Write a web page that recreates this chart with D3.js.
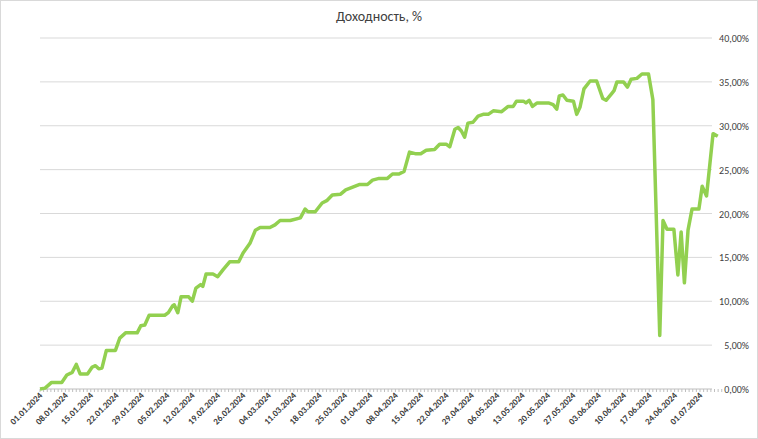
<!DOCTYPE html>
<html><head><meta charset="utf-8">
<script src="https://cdn.jsdelivr.net/npm/d3@7"></script>
<style>body{margin:0;background:#fff}svg{display:block;font-family:Calibri,"Liberation Sans",Arial,sans-serif}</style>
</head><body><svg id="chart" width="758" height="439"></svg>
<script>
// days since 01.01.2024 and yield, %
const dayOffsets = [0,1.4,3.2,6,7.4,8.9,10,11.1,13.1,14.4,15.3,16.2,17.1,18.3,20.8,22,23.6,26.8,27.8,28.9,30.1,31.5,34.4,35.4,36.6,37,38,38.9,41,42,43,44.3,44.9,45.8,47.7,49,50.5,52.3,54.8,56,57.9,59.4,60.7,63.4,64.8,66.2,69,71.8,73.1,73.9,75.9,77.8,79.2,80.6,82.9,84.3,88,90.3,91.7,93.5,95.8,97.2,99,100.4,101.9,103.7,105,106.5,108.8,110.2,112,113,114.4,115.3,116.2,117.1,118,119.4,120.8,122.2,123.6,125,127.3,129.1,130.5,131.4,133.3,134,134.9,135.8,137.1,140.2,141.5,142.5,143.2,144.2,145.3,147.1,148,148.9,150,151.7,153.5,155.2,156.1,157.7,158.3,159.1,160.9,162,163,164.6,166,167.8,169,170.9,171.8,172.9,174.8,175.9,176.8,177.7,178.7,179.8,181.7,182.6,183.8,185.6,186.9];
const yieldPct = [0,0.1,0.75,0.75,1.6,1.9,2.8,1.7,1.7,2.5,2.65,2.3,2.4,4.4,4.4,5.8,6.4,6.4,7.2,7.3,8.4,8.4,8.4,8.7,9.5,9.6,8.7,10.5,10.5,10.0,11.5,11.9,11.7,13.1,13.1,12.8,13.6,14.5,14.5,15.5,16.6,18.1,18.4,18.4,18.7,19.2,19.2,19.5,20.5,20.2,20.2,21.2,21.5,22.1,22.2,22.7,23.3,23.3,23.8,24.0,24.0,24.5,24.5,24.8,27.0,26.8,26.8,27.2,27.3,27.9,27.9,27.6,29.6,29.8,29.4,28.7,30.3,30.4,31.1,31.3,31.3,31.7,31.6,32.2,32.2,32.8,32.8,32.6,32.9,32.2,32.6,32.6,32.4,31.9,33.4,33.5,32.9,32.8,31.3,32.1,34.2,35.1,35.1,33.1,32.9,33.7,34.0,35.0,35.0,34.4,35.3,35.4,35.9,35.9,33.0,6.1,19.2,18.2,18.2,13.0,17.9,12.1,18.1,20.5,20.5,23.1,22.0,29.1,28.8];
const yTicks = [0,5,10,15,20,25,30,35,40];
const title = "Доходность, %";

const start = new Date(2024,0,1);
const dayMs = 864e5;
const data = dayOffsets.map((d,i)=>({date:new Date(start.getTime()+d*dayMs), v:yieldPct[i]}));

const svg = d3.select("#chart");
const mLeft = 40, mRight = 712, mTop = 38, mBottom = 389;

const x = d3.scaleTime().domain([start, new Date(2024,6,1)]).range([mLeft, 700]);
const y = d3.scaleLinear().domain([0,40]).range([mBottom, mTop]);

svg.append("rect").attr("x",0.5).attr("y",0.5).attr("width",757).attr("height",438)
  .attr("fill","#fff").attr("stroke","#d9d9d9");

svg.append("text").attr("x",379).attr("y",21).attr("text-anchor","middle")
  .attr("font-size",14).attr("fill","#404040").text(title);

// grid + right labels
svg.append("g").selectAll("line").data(yTicks).join("line")
  .attr("x1",mLeft).attr("x2",mRight).attr("y1",d=>y(d)).attr("y2",d=>y(d))
  .attr("stroke",d=>d===0?"#bfbfbf":"#d9d9d9").attr("stroke-width",1);
svg.append("g").selectAll("text").data(yTicks).join("text")
  .attr("x",749).attr("y",d=>y(d)+4).attr("text-anchor","end")
  .attr("font-size",10).attr("fill","#404040")
  .text(d=>d3.format(".2f")(d).replace(".",",")+"%");

// daily minor ticks
const days = d3.timeDay.range(start, new Date(2024,6,8));
svg.append("g").selectAll("line").data(days).join("line")
  .attr("x1",d=>x(d)).attr("x2",d=>x(d)).attr("y1",mBottom).attr("y2",mBottom+3)
  .attr("stroke","#bfbfbf");

// weekly labels
const weeks = d3.range(0,27).map(i=>new Date(start.getTime()+i*7*dayMs));
const fmt = d3.timeFormat("%d.%m.%Y");
svg.append("g").selectAll("text").data(weeks).join("text")
  .attr("transform",d=>`translate(${x(d)+3},${mBottom+7}) rotate(-45)`)
  .attr("text-anchor","end").attr("font-size",9).attr("font-weight","bold")
  .attr("fill","#404040").text(d=>fmt(d));

svg.append("path").datum(data)
  .attr("fill","none").attr("stroke","#92d050").attr("stroke-width",3.5)
  .attr("stroke-linejoin","round")
  .attr("d", d3.line().x(d=>x(d.date)).y(d=>y(d.v)));
</script></body></html>
